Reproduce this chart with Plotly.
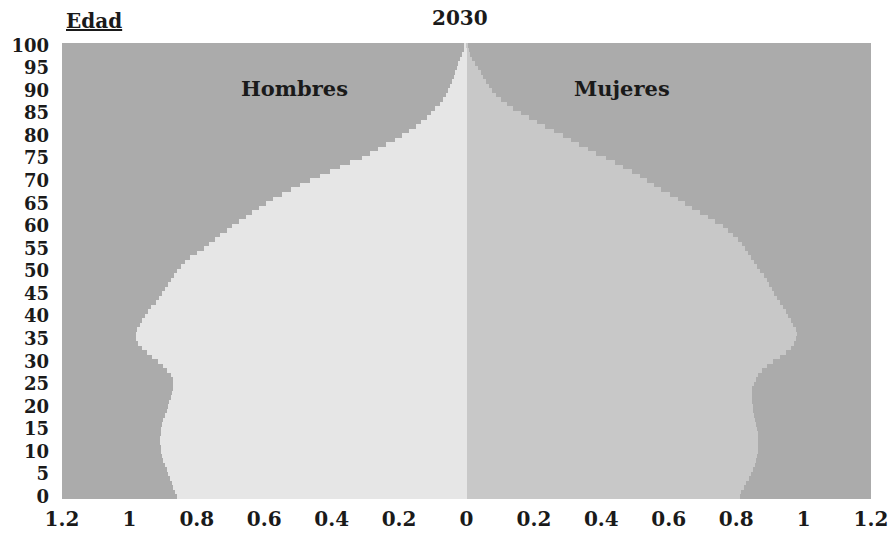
import plotly.graph_objects as go

ages = list(range(0, 101))

hombres = [
    0.860, 0.865, 0.870, 0.875, 0.880, 0.885, 0.890, 0.895, 0.900, 0.903,
    0.905, 0.907, 0.908, 0.908, 0.907, 0.905, 0.902, 0.900, 0.895, 0.890,
    0.886, 0.882, 0.878, 0.874, 0.871, 0.870, 0.872, 0.878, 0.888, 0.900,
    0.915, 0.932, 0.948, 0.962, 0.975, 0.980, 0.980, 0.977, 0.970, 0.963,
    0.955, 0.945, 0.935, 0.922, 0.912, 0.902, 0.895, 0.887, 0.878, 0.868,
    0.858, 0.846, 0.834, 0.820, 0.800, 0.780, 0.763, 0.746, 0.730, 0.712,
    0.695, 0.676, 0.655, 0.636, 0.616, 0.596, 0.574, 0.548, 0.522, 0.495,
    0.465, 0.435, 0.405, 0.375, 0.345, 0.310, 0.285, 0.262, 0.238, 0.212,
    0.190, 0.170, 0.150, 0.135, 0.118, 0.104, 0.092, 0.080, 0.070, 0.062,
    0.055, 0.048, 0.042, 0.037, 0.033, 0.029, 0.026, 0.020, 0.014, 0.008,
    0.006,
]

mujeres = [
    0.810, 0.815, 0.822, 0.830, 0.838, 0.845, 0.850, 0.855, 0.860, 0.863,
    0.865, 0.866, 0.866, 0.865, 0.864, 0.862, 0.860, 0.857, 0.854, 0.851,
    0.850, 0.848, 0.847, 0.847, 0.848, 0.852, 0.858, 0.866, 0.877, 0.890,
    0.910, 0.930, 0.948, 0.962, 0.972, 0.978, 0.981, 0.978, 0.970, 0.962,
    0.955, 0.947, 0.938, 0.929, 0.921, 0.913, 0.905, 0.898, 0.891, 0.882,
    0.871, 0.863, 0.854, 0.845, 0.836, 0.826, 0.816, 0.806, 0.792, 0.776,
    0.760, 0.738, 0.716, 0.692, 0.670, 0.648, 0.626, 0.604, 0.578, 0.556,
    0.535, 0.514, 0.490, 0.465, 0.440, 0.415, 0.385, 0.360, 0.335, 0.310,
    0.285, 0.260, 0.232, 0.208, 0.185, 0.162, 0.138, 0.120, 0.103, 0.088,
    0.077, 0.067, 0.058, 0.050, 0.042, 0.034, 0.024, 0.017, 0.011, 0.006,
    0.004,
]

x_tickvals = [-1.2, -1.0, -0.8, -0.6, -0.4, -0.2, 0, 0.2, 0.4, 0.6, 0.8, 1.0, 1.2]
x_ticktext = ["1.2", "1", "0.8", "0.6", "0.4", "0.2", "0", "0.2", "0.4", "0.6", "0.8", "1", "1.2"]
y_tickvals = list(range(0, 101, 5))

FONT = "DejaVu Serif"
INK = "#1a1a1a"

W, H = 896, 542
L, R, T, B = 62, 25, 43, 43
plot_w = W - L - R
plot_h = H - T - B


def px_to_paper(px, py):
    return (px - L) / plot_w, (H - B - py) / plot_h


fig = go.Figure()
fig.add_trace(go.Bar(
    y=ages, x=[-v for v in hombres], orientation="h",
    marker=dict(color="#e6e6e6", line=dict(width=0)), name="Hombres",
))
fig.add_trace(go.Bar(
    y=ages, x=mujeres, orientation="h",
    marker=dict(color="#c8c8c8", line=dict(width=0)), name="Mujeres",
))

tx, ty = px_to_paper(460, 18)
ex, ey = px_to_paper(94, 21)

fig.update_layout(
    width=W, height=H,
    margin=dict(l=L, r=R, t=T, b=B, autoexpand=False),
    paper_bgcolor="white",
    plot_bgcolor="#ababab",
    barmode="overlay",
    bargap=0,
    showlegend=False,
    font=dict(family=FONT, color=INK),
    xaxis=dict(
        range=[-1.2, 1.2], tickvals=x_tickvals,
        ticktext=[f"<b>{t}</b>" for t in x_ticktext],
        showgrid=False, zeroline=False, showline=False, automargin=False,
        tickfont=dict(family=FONT, size=20, color=INK),
        ticks="", ticklabelstandoff=6,
    ),
    yaxis=dict(
        range=[-0.5, 100.5], tickvals=y_tickvals,
        ticktext=[f"<b>{v}</b>" for v in y_tickvals],
        showgrid=False, zeroline=False, showline=False, automargin=False,
        tickfont=dict(family=FONT, size=18, color=INK),
        ticks="", ticklabelstandoff=12,
    ),
    annotations=[
        dict(text="<b>2030</b>", x=tx, y=ty, xref="paper", yref="paper",
             xanchor="center", yanchor="middle", showarrow=False, borderpad=0,
             font=dict(family=FONT, size=20, color=INK)),
        dict(text="<b><u>Edad</u></b>", x=ex, y=ey, xref="paper", yref="paper",
             xanchor="center", yanchor="middle", showarrow=False, borderpad=0,
             font=dict(family=FONT, size=20, color=INK)),
        dict(text="<b>Hombres</b>", x=-0.51, y=90.5, xref="x", yref="y", showarrow=False,
             font=dict(family=FONT, size=21, color=INK)),
        dict(text="<b>Mujeres</b>", x=0.46, y=90.5, xref="x", yref="y", showarrow=False,
             font=dict(family=FONT, size=21, color=INK)),
    ],
)

# remove the default page margin so the figure sits at the window's top-left corner
fig.write_html(
    "out.html",
    config={"displayModeBar": False},
    post_script="document.body.style.margin='0';",
)
